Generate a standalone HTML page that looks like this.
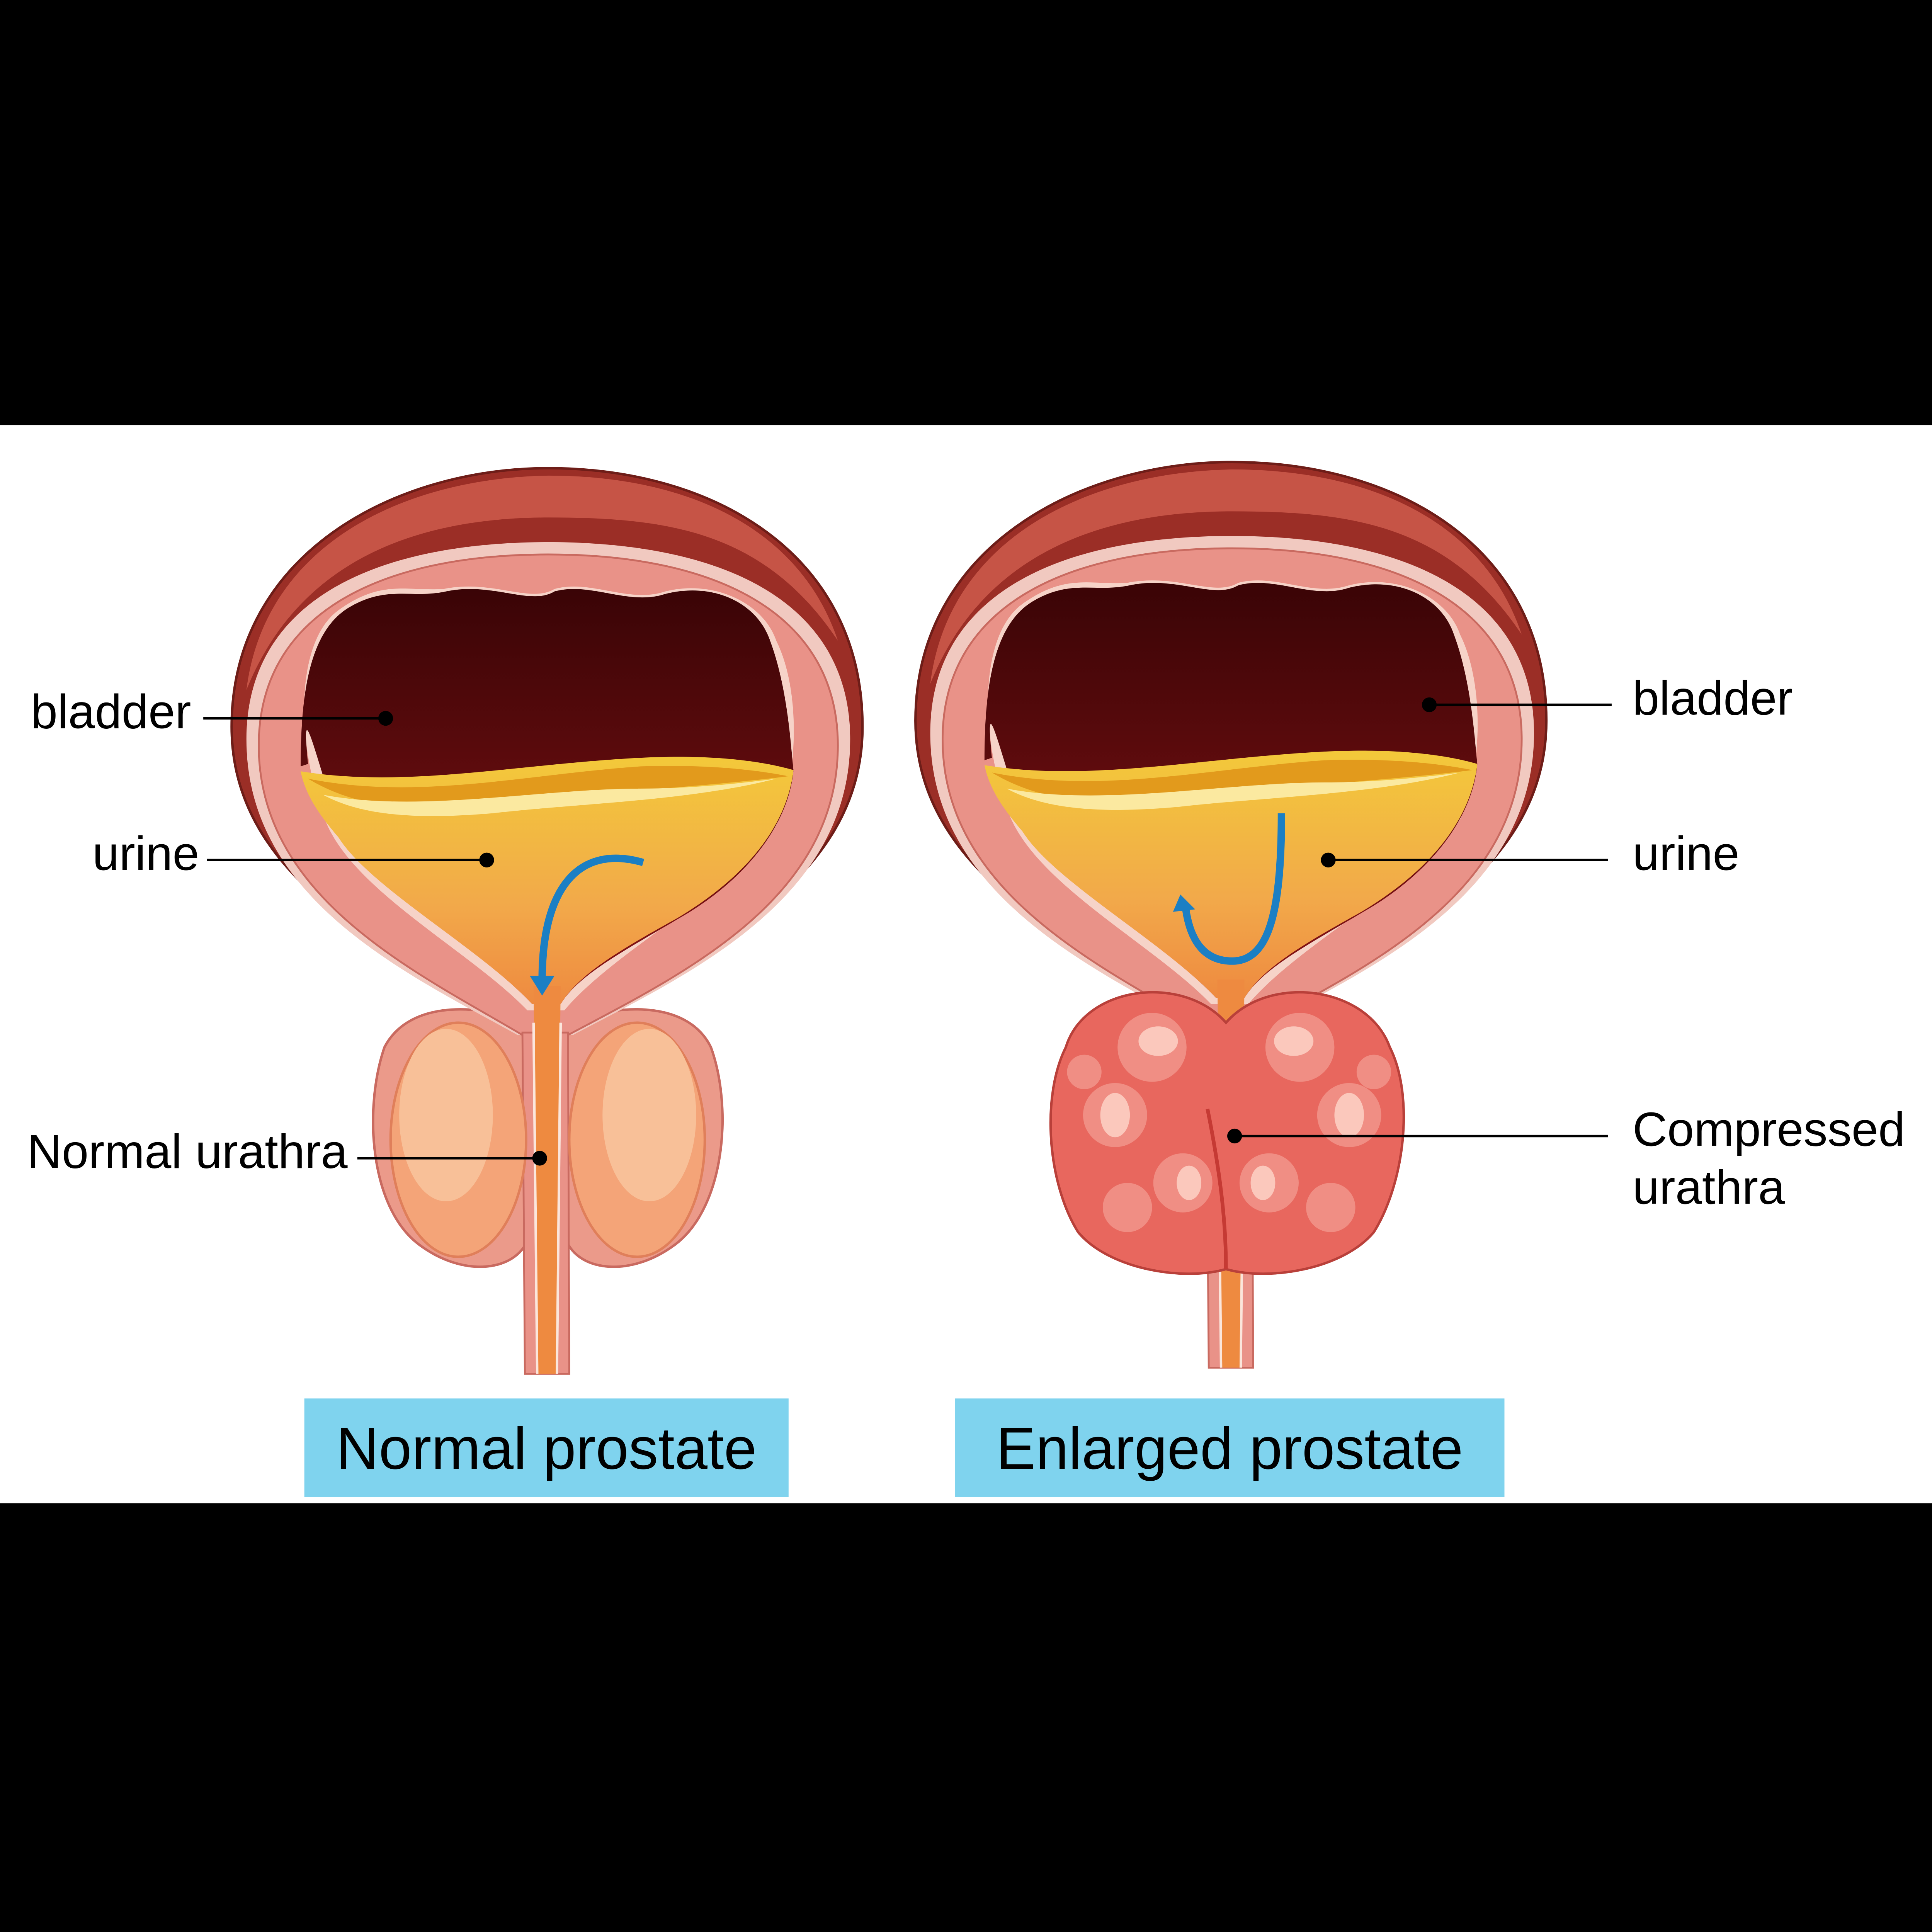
<!DOCTYPE html>
<html><head><meta charset="utf-8">
<style>
html,body{margin:0;padding:0;background:#000;overflow:hidden;width:100%;height:100%;}
svg{display:block;width:100vw;height:100vh;}
text{font-family:"Liberation Sans",Arial,sans-serif;fill:#000;}
</style></head>
<body>
<svg viewBox="0 0 1568 1568" preserveAspectRatio="none" xmlns="http://www.w3.org/2000/svg">
<defs>
<linearGradient id="lum" x1="0" y1="0" x2="0" y2="1">
<stop offset="0" stop-color="#3a0406"/><stop offset="1" stop-color="#8a1416"/>
</linearGradient>
<linearGradient id="uri" x1="0" y1="0" x2="0" y2="1">
<stop offset="0" stop-color="#f3c93a"/><stop offset="0.6" stop-color="#f2a94a"/><stop offset="1" stop-color="#ee8a40"/>
</linearGradient>
<g id="bl">
  <path d="M415 835 C330 775,188 720,188 590 C188 450,320 380,445 380 C580 380,700 450,700 590 C700 720,560 775,470 835 Z" fill="#9b2e26" stroke="#6e1d18" stroke-width="2"/>
  <path d="M200 560 C215 440,330 388,445 386 C560 386,650 430,680 520 C620 430,540 420,445 420 C330 420,240 460,200 560 Z" fill="#c65446"/>
  <path d="M420 840 C330 790,200 730,200 600 C200 490,300 440,445 440 C590 440,690 490,690 600 C690 730,560 790,465 840 Z" fill="#f1c9c0"/>
  <path d="M424 840 C340 790,210 730,210 605 C210 500,305 450,445 450 C585 450,680 500,680 605 C680 730,555 790,461 840 Z" fill="#e99288" stroke="#c96a60" stroke-width="1.5"/>
  <path d="M428 820 C380 770,280 720,262 660 C240 600,240 520,275 495 C310 470,330 480,360 478 C400 470,430 490,450 478 C480 470,510 490,540 480 C580 470,620 490,630 520 C650 560,648 630,630 670 C600 720,500 770,458 820 Z" fill="#f6d3c8"/>
  <path d="M432 815 C385 765,290 715,272 660 C255 610,244 560,250 620 L244 622 C244 560,252 510,285 492 C315 475,335 486,362 480 C400 472,430 492,450 480 C480 472,510 492,540 482 C580 472,615 490,625 520 C640 560,642 610,644 625 C640 670,605 712,560 740 C510 770,470 790,455 815 Z" fill="url(#lum)"/>
  <path d="M244 626 C330 640,420 620,520 615 C580 612,620 618,644 625 C638 675,600 715,550 745 C505 770,470 790,455 815 L432 815 C390 770,300 720,275 680 C258 660,248 645,244 626 Z" fill="url(#uri)"/>
  <path d="M250 632 C340 650,430 628,520 622 C580 620,620 626,640 630 C560 640,450 645,380 655 C320 660,280 650,250 632 Z" fill="#e29a1c"/>
  <path d="M262 645 C340 660,440 640,520 640 C560 640,600 636,630 632 C560 650,470 652,400 660 C330 666,290 660,262 645 Z" fill="#fbe9a0"/>
  <path d="M424 838 L426 1115 L462 1115 L461 838 Z" fill="#e99288" stroke="#c96a60" stroke-width="1.5"/>
  <path d="M433 800 L437 1115 L452 1115 L455 800 Z" fill="#ee8a40"/>
  <line x1="433" y1="830" x2="436" y2="1115" stroke="#fbe6dc" stroke-width="2"/>
  <line x1="455" y1="830" x2="452" y2="1115" stroke="#fbe6dc" stroke-width="2"/>
</g>
</defs>

<rect x="0" y="0" width="1568" height="1568" fill="#000"/>
<rect x="0" y="345" width="1568" height="875" fill="#fff"/>

<path d="M430 830 C380 812,330 815,312 850 C295 900,300 980,340 1010 C380 1040,425 1030,430 1000 Z" fill="#eb9a8a" stroke="#c96a60" stroke-width="2"/>
<path d="M458 830 C510 812,560 815,577 850 C595 900,588 980,548 1010 C508 1040,462 1030,458 1000 Z" fill="#eb9a8a" stroke="#c96a60" stroke-width="2"/>
<use href="#bl"/>
<ellipse cx="372" cy="925" rx="55" ry="95" fill="#f4a478" stroke="#e07f5a" stroke-width="2"/>
<ellipse cx="362" cy="905" rx="38" ry="70" fill="#f8c098"/>
<ellipse cx="517" cy="925" rx="55" ry="95" fill="#f4a478" stroke="#e07f5a" stroke-width="2"/>
<ellipse cx="527" cy="905" rx="38" ry="70" fill="#f8c098"/>
<path d="M522 700 C470 685,440 720,440 795" fill="none" stroke="#1b7fc4" stroke-width="6"/>
<polygon points="430,792 450,792 440,808" fill="#1b7fc4"/>

<g transform="translate(555,-5)"><use href="#bl"/></g>
<path d="M995 830 C960 790,880 800,865 850 C845 890,850 960,875 1000 C900 1030,960 1040,995 1030 C1030 1040,1090 1030,1115 1000 C1140 960,1148 890,1128 850 C1110 800,1030 790,995 830 Z" fill="#e8675e" stroke="#b9403a" stroke-width="2"/>
<g fill="#f08e84">
<circle cx="935" cy="850" r="28"/><circle cx="1055" cy="850" r="28"/>
<circle cx="905" cy="905" r="26"/><circle cx="1095" cy="905" r="26"/>
<circle cx="960" cy="960" r="24"/><circle cx="1030" cy="960" r="24"/>
<circle cx="915" cy="980" r="20"/><circle cx="1080" cy="980" r="20"/>
<circle cx="880" cy="870" r="14"/><circle cx="1115" cy="870" r="14"/>
</g>
<g fill="#fbc8bc">
<ellipse cx="940" cy="845" rx="16" ry="12"/><ellipse cx="1050" cy="845" rx="16" ry="12"/>
<ellipse cx="905" cy="905" rx="12" ry="18"/><ellipse cx="1095" cy="905" rx="12" ry="18"/>
<ellipse cx="965" cy="960" rx="10" ry="14"/><ellipse cx="1025" cy="960" rx="10" ry="14"/>
</g>
<path d="M980 900 C990 950,995 990,995 1030" stroke="#c53a34" stroke-width="3" fill="none"/>
<path d="M1040 660 C1040 740,1030 780,1000 780 C975 780,965 760,962 735" fill="none" stroke="#1b7fc4" stroke-width="6"/>
<polygon points="952,740 970,738 958,726" fill="#1b7fc4"/>

<g stroke="#000" stroke-width="2">
<line x1="165" y1="583" x2="313" y2="583"/>
<line x1="168" y1="698" x2="395" y2="698"/>
<line x1="290" y1="940" x2="438" y2="940"/>
<line x1="1160" y1="572" x2="1308" y2="572"/>
<line x1="1078" y1="698" x2="1305" y2="698"/>
<line x1="1002" y1="922" x2="1305" y2="922"/>
</g>
<g fill="#000">
<circle cx="313" cy="583" r="6"/><circle cx="395" cy="698" r="6"/><circle cx="438" cy="940" r="6"/>
<circle cx="1160" cy="572" r="6"/><circle cx="1078" cy="698" r="6"/><circle cx="1002" cy="922" r="6"/>
</g>
<g font-size="39">
<text x="25" y="591">bladder</text>
<text x="75" y="706">urine</text>
<text x="22" y="948">Normal urathra</text>
<text x="1325" y="580">bladder</text>
<text x="1325" y="706">urine</text>
<text x="1325" y="930">Compressed</text>
<text x="1325" y="977">urathra</text>
</g>
<rect x="247" y="1135" width="393" height="80" fill="#7fd3ee"/>
<rect x="775" y="1135" width="446" height="80" fill="#7fd3ee"/>
<text x="443.5" y="1192" font-size="48" text-anchor="middle">Normal prostate</text>
<text x="998" y="1192" font-size="48" text-anchor="middle">Enlarged prostate</text>
</svg>
</body></html>
